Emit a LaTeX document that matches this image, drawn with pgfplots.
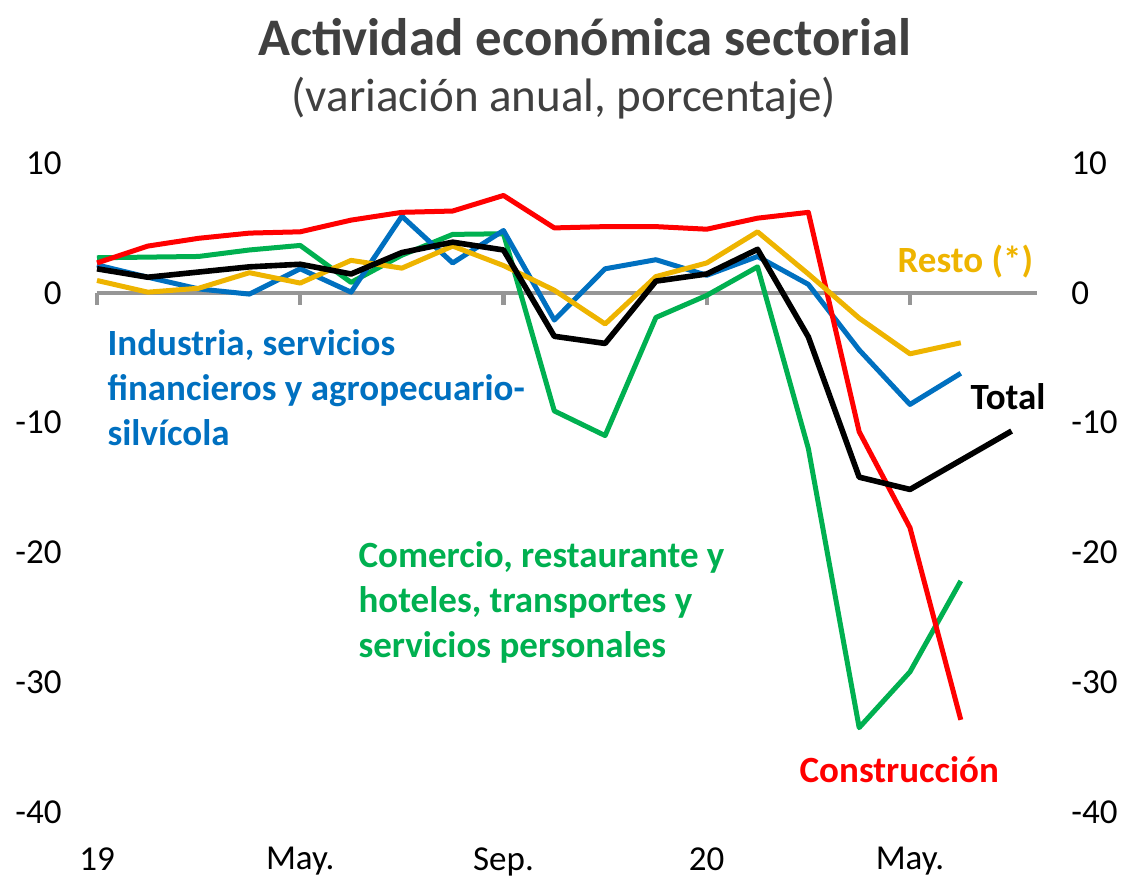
\documentclass[border=0pt]{standalone}
\usepackage{pgfplots}
\pgfplotsset{compat=1.18}
\usepackage{fontspec}
\setmainfont{Carlito}

\definecolor{cblue}{RGB}{0,112,192}
\definecolor{cgreen}{RGB}{0,176,80}
\definecolor{cred}{RGB}{255,0,0}
\definecolor{cyellow}{RGB}{238,180,0}
\definecolor{axgray}{RGB}{150,150,150}
\definecolor{titlegray}{RGB}{64,64,64}

\pgfplotsset{
  base/.style={
    at={(0,0)}, anchor=south west,
    scale only axis, width=470pt, height=324.5pt,
    xmin=0, xmax=18.5, ymin=-40, ymax=10,
    ytick={-40,-30,-20,-10,0,10},
    yticklabels={-40,-30,-20,-10,0,10},
    axis line style={draw=none},
    major tick length=0pt,
    tick label style={font=\fontsize{17.5}{17.5}\selectfont, inner sep=0pt},
    clip=false,
  },
  series/.style={line width=2.5pt, line join=round, mark=none},
}

\begin{document}
\begin{tikzpicture}
\useasboundingbox (-48.5pt,-33.5pt) rectangle (515.5pt,406pt);

% right-hand tick labels
\begin{axis}[base,
  xtick=\empty,
  yticklabel pos=right,
  yticklabel style={anchor=west, xshift=17pt},
]
\addplot[draw=none] coordinates {(0,0)};
\end{axis}

\begin{axis}[base,
  xtick={0,4,8,12,16},
  xticklabels={19,May.,Sep.,20,May.},
  xticklabel style={anchor=north, yshift=-17.5pt},
  yticklabel style={anchor=east, xshift=-17.5pt},
]
% zero line with its tick marks
\draw[axgray, line width=2pt] (axis cs:0,0) -- (axis cs:18.5,0);
\draw[axgray, line width=2.2pt] (axis cs:0,0) -- ([yshift=-6pt]axis cs:0,0);
\draw[axgray, line width=2.2pt] (axis cs:4,0) -- ([yshift=-6pt]axis cs:4,0);
\draw[axgray, line width=2.2pt] (axis cs:8,0) -- ([yshift=-6pt]axis cs:8,0);
\draw[axgray, line width=2.2pt] (axis cs:12,0) -- ([yshift=-6pt]axis cs:12,0);
\draw[axgray, line width=2.2pt] (axis cs:16,0) -- ([yshift=-6pt]axis cs:16,0);

% Comercio, restaurante y hoteles, transportes y servicios personales
\addplot[series, cgreen] coordinates {
(0,2.7) (1,2.75) (2,2.8) (3,3.3) (4,3.65) (5,0.8) (6,2.9) (7,4.5) (8,4.55)
(9,-9.1) (10,-11.0) (11,-1.9) (12,-0.2) (13,2.0) (14,-12.0) (15,-33.5) (16,-29.2) (17,-22.2)};
% Industria, servicios financieros y agropecuario-silvicola
\addplot[series, cblue] coordinates {
(0,2.15) (1,1.2) (2,0.3) (3,-0.1) (4,1.85) (5,0.05) (6,5.9) (7,2.3) (8,4.8)
(9,-2.1) (10,1.85) (11,2.55) (12,1.35) (13,2.8) (14,0.65) (15,-4.4) (16,-8.6) (17,-6.2)};
% Construccion
\addplot[series, cred] coordinates {
(0,2.3) (1,3.6) (2,4.2) (3,4.6) (4,4.7) (5,5.6) (6,6.2) (7,6.3) (8,7.5)
(9,5.0) (10,5.1) (11,5.1) (12,4.9) (13,5.75) (14,6.2) (15,-10.7) (16,-18.1) (17,-32.9)};
% Resto
\addplot[series, cyellow] coordinates {
(0,0.95) (1,0.05) (2,0.35) (3,1.55) (4,0.75) (5,2.5) (6,1.9) (7,3.6) (8,2.1)
(9,0.2) (10,-2.4) (11,1.25) (12,2.3) (13,4.7) (14,1.45) (15,-1.95) (16,-4.7) (17,-3.85)};
% Total
\addplot[series, black, line width=2.8pt] coordinates {
(0,1.85) (1,1.2) (2,1.6) (3,2.0) (4,2.2) (5,1.45) (6,3.1) (7,3.9) (8,3.3)
(9,-3.35) (10,-3.9) (11,0.9) (12,1.45) (13,3.35) (14,-3.4) (15,-14.2) (16,-15.15) (17,-12.9) (18,-10.65)};

% titles
\node[titlegray, font=\fontsize{26.4}{30}\selectfont\bfseries] at (axis cs:9.6,19.7) {Actividad económica sectorial};
\node[titlegray, font=\fontsize{23.5}{28}\selectfont] at (axis cs:9.19,15.0) {(variación anual, porcentaje)};

% series labels
\node[cblue, anchor=west, align=left, inner sep=0pt, font=\fontsize{18.5}{22.5}\selectfont\bfseries]
  at (axis cs:0.2,-7.33) {Industria, servicios\\financieros y agropecuario-\\silvícola};
\node[cgreen, anchor=west, align=left, inner sep=0pt, font=\fontsize{18.5}{22.5}\selectfont\bfseries]
  at (axis cs:5.14,-23.82) {Comercio, restaurante y\\hoteles, transportes y\\servicios personales};
\node[cyellow, inner sep=0pt, font=\fontsize{18.5}{22.5}\selectfont\bfseries] at (axis cs:17.09,2.37) {Resto (*)};
\node[black, inner sep=0pt, font=\fontsize{18.5}{22.5}\selectfont\bfseries] at (axis cs:17.93,-8.03) {Total};
\node[cred, inner sep=0pt, font=\fontsize{18.5}{22.5}\selectfont\bfseries] at (axis cs:15.79,-36.76) {Construcción};
\end{axis}
\end{tikzpicture}
\end{document}
